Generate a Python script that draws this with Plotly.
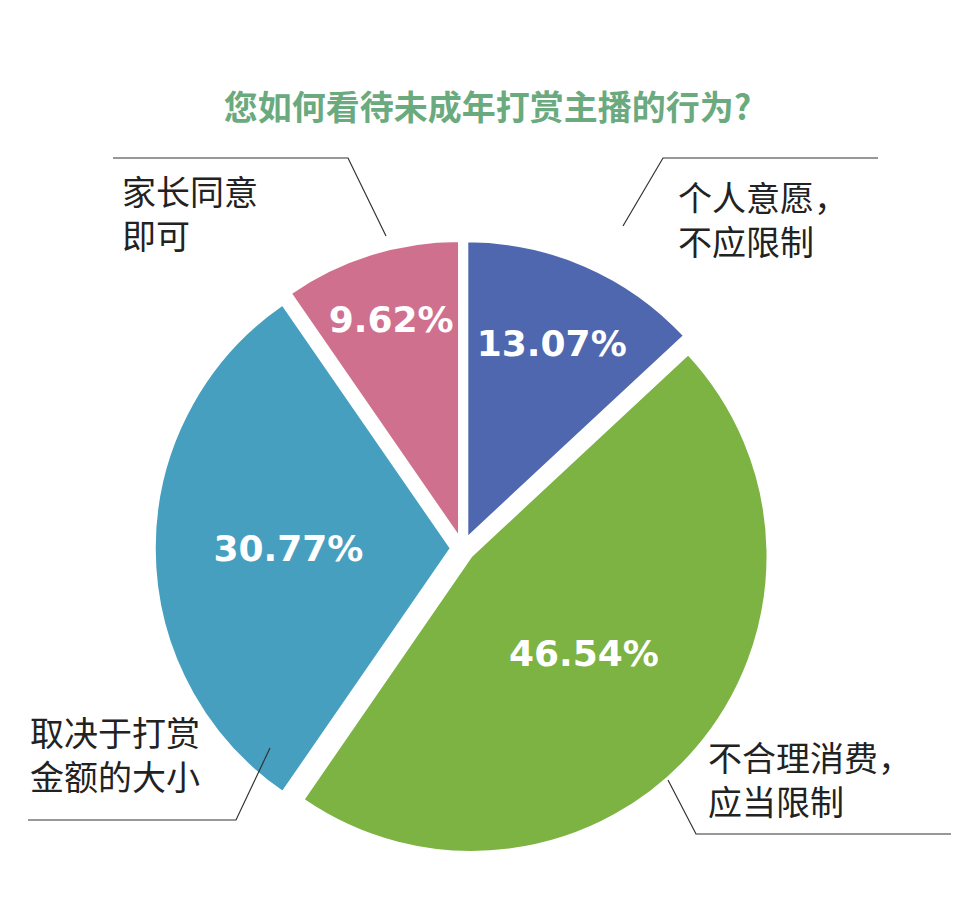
import plotly.graph_objects as go

labels = ["个人意愿，不应限制", "不合理消费，应当限制", "取决于打赏金额的大小", "家长同意即可"]
values = [13.07, 46.54, 30.77, 9.62]
colors = ["#4f67ae", "#7cb342", "#479fc0", "#d0708f"]

fig = go.Figure(go.Pie(
    labels=labels, values=values, sort=False, direction="clockwise", rotation=0,
    marker=dict(colors=colors, line=dict(color="white", width=2)),
    pull=[0.04, 0.04, 0.04, 0.04],
    texttemplate="<b>%{value:.2f}%</b>", textposition="inside", insidetextorientation="horizontal",
    textfont=dict(family="DejaVu Sans", size=36, color="white"),
    domain=dict(x=[0.153, 0.795], y=[0.069, 0.745]),
    showlegend=False, hoverinfo="label+value",
))

font = dict(family="Noto Sans CJK SC", size=34, color="#222")
ann = [
    dict(x=112/959, y=1-205/911, text="家长同意<br>即可", xanchor="left"),
    dict(x=668/959, y=1-210/911, text="个人意愿，<br>不应限制", xanchor="left"),
    dict(x=20/959, y=1-745/911, text="取决于打赏<br>金额的大小", xanchor="left"),
    dict(x=698/959, y=1-770/911, text="不合理消费，<br>应当限制", xanchor="left"),
]
annotations = [dict(xref="paper", yref="paper", showarrow=False, yanchor="middle", align="left", font=font, **a) for a in ann]

def px(x, y):
    return x/959, 1-y/911
segs = [
    [(105, 150), (340, 150), (378, 228)],
    [(615, 218), (655, 150), (870, 150)],
    [(20, 812), (228, 812), (262, 740)],
    [(660, 772), (688, 826), (945, 826)],
]
shapes = []
for s in segs:
    pts = [px(*p) for p in s]
    path = "M " + " L ".join(f"{a},{b}" for a, b in pts)
    shapes.append(dict(type="path", xref="paper", yref="paper", path=path, line=dict(color="#333", width=1.2)))

fig.update_layout(width=959, height=911, margin=dict(l=0, r=0, t=0, b=0),
                  title=dict(text="<b>您如何看待未成年打赏主播的行为?</b>", x=0.5, xanchor="center",
                             y=1-100/911, yanchor="middle", yref="paper",
                             font=dict(family="Noto Sans CJK SC", size=34, color="#6aaa7e")),
                  paper_bgcolor="white", annotations=annotations, shapes=shapes)
fig.write_html("out.html")
